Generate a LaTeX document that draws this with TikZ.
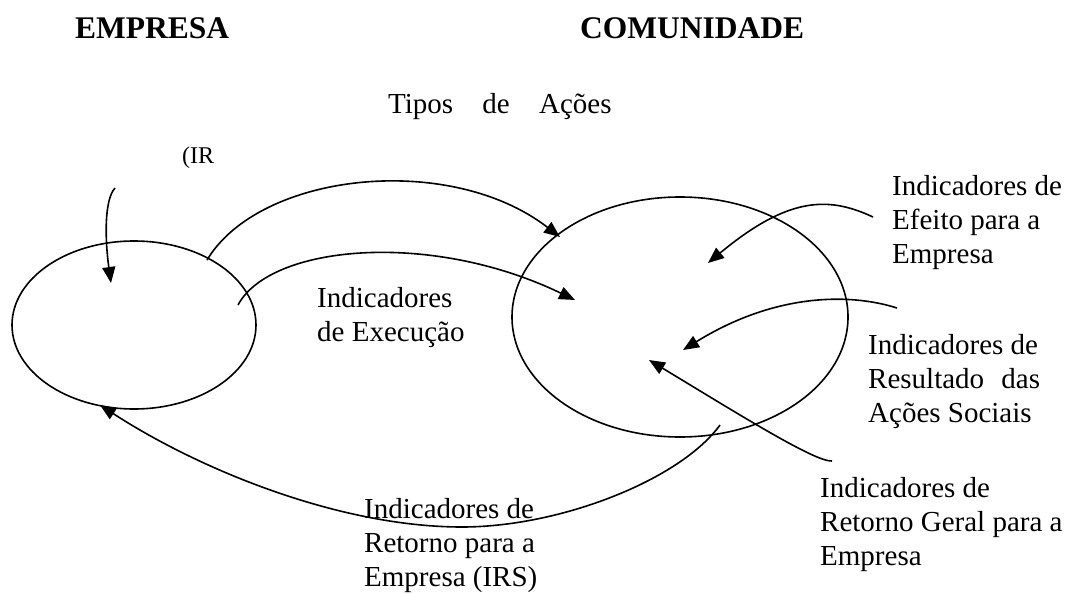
\documentclass[tikz,border=0pt]{standalone}
\usepackage{fontspec}
\setmainfont{Liberation Serif}
\usepackage{tikz}
\usetikzlibrary{arrows.meta,shapes.geometric}

\tikzset{
  arr/.style={-{Triangle[length=16pt,width=13pt]}, line width=1.6pt},
  lbl/.style={anchor=base west, inner sep=0pt, align=left,
    font=\fontsize{29}{34}\selectfont},
  head/.style={anchor=base west, inner sep=0pt,
    font=\fontsize{31.5}{36}\selectfont\bfseries},
  blob/.style={draw, ellipse, line width=1.6pt, inner sep=0pt}
}

\begin{document}
\begin{tikzpicture}[x=1pt,y=-1pt]
		\useasboundingbox (0,0) rectangle (1076,594);

		% Titles
		\node[head] (tEmpresa) at (75,39) {EMPRESA};
		\node[head] (tComunidade) at (580,39) {COMUNIDADE};
		\node[lbl] (tipos) at (388,113) {Tipos\hspace{22pt} de\hspace{22pt} Ações};
		\node[lbl, font=\fontsize{24}{28}\selectfont] (ir) at (182,163) {(IR};

		% Draw the two ellipses
		\node[blob, minimum width=244pt, minimum height=168pt] (empresa) at (134,325) {};
		\node[blob, minimum width=336pt, minimum height=240pt] (comunidade) at (680,317) {};

		% Labels (base = last line)
		\node[lbl] (execucao) at (317,341) {Indicadores\\de Execução};
		\node[lbl] (efeito) at (892,263) {Indicadores de\\Efeito para a\\Empresa};
		\node[lbl] (resultado) at (868,422) {Indicadores de\\Resultado\hspace{10pt} das\\Ações Sociais};
		\node[lbl] (geral) at (820,565) {Indicadores de\\Retorno Geral para a\\Empresa};
		\node[lbl] (retorno) at (364,586) {Indicadores de\\Retorno para a\\Empresa (IRS)};

		% End points of the arrows
		\coordinate (irA) at (115,188);
		\coordinate (irB) at (111,283);
		\coordinate (topA) at (207,260);
		\coordinate (topB) at (560,237);
		\coordinate (midA) at (238,305);
		\coordinate (midB) at (575,300);
		\coordinate (efA) at (873,217);
		\coordinate (efB) at (708,263);
		\coordinate (resA) at (897,308);
		\coordinate (resB) at (683,350);
		\coordinate (gerA) at (832,461);
		\coordinate (gerB) at (649,360);
		\coordinate (retA) at (720,425);
		\coordinate (retB) at (100,405);

		% Draw the arrows
		\draw[arr] (irA) .. controls (104,200) and (105,240) .. (irB);
		\draw[arr] (topA) .. controls (260,172) and (450,152) .. (topB);
		\draw[arr] (midA) .. controls (270,245) and (430,230) .. (midB);
		\draw[arr] (efA) .. controls (830,197) and (790,195) .. (efB);
		\draw[arr] (resA) .. controls (850,293) and (775,293) .. (resB);
		\draw[arr] (gerA) .. controls (815,462) and (740,415) .. (gerB);
		\draw[arr] (retA) .. controls (680,480) and (560,527) .. (462,527)
		  .. controls (340,527) and (200,470) .. (retB);
	\end{tikzpicture}
\end{document}
